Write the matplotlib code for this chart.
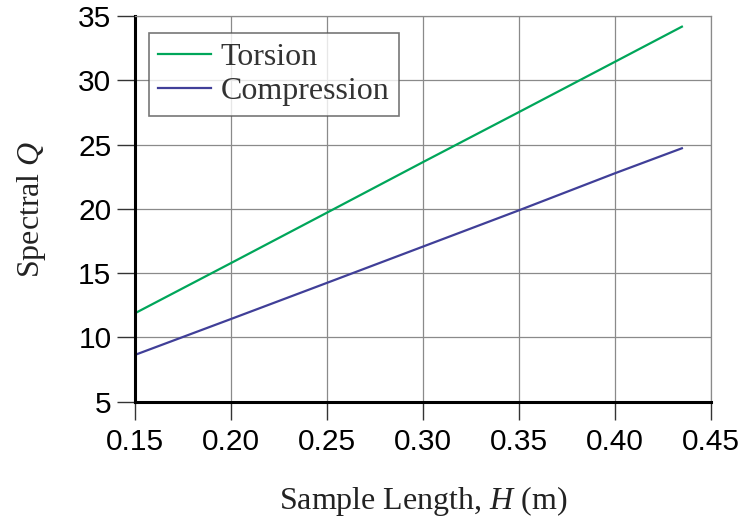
import matplotlib
matplotlib.use("Agg")
import matplotlib.pyplot as plt

# data
length_h = [0.15, 0.20, 0.25, 0.30, 0.35, 0.40, 0.435]
torsion_q = [11.88, 15.78, 19.70, 23.63, 27.52, 31.43, 34.17]
compression_q = [8.64, 11.43, 14.24, 17.06, 19.88, 22.76, 24.71]

x_ticks = [0.15, 0.20, 0.25, 0.30, 0.35, 0.40, 0.45]
y_ticks = [5, 10, 15, 20, 25, 30, 35]

plt.rcParams["mathtext.fontset"] = "custom"
plt.rcParams["mathtext.it"] = "Liberation Serif:italic"
plt.rcParams["mathtext.rm"] = "Liberation Serif"

fig = plt.figure(figsize=(7.44, 5.23), dpi=100)
ax = fig.add_axes([0.1815, 0.232, 0.7737, 0.7374])

ax.plot(length_h, torsion_q, color="#00a65a", lw=1.6, label="Torsion")
ax.plot(length_h, compression_q, color="#403f98", lw=1.6, label="Compression")

ax.set_xlim(0.15, 0.45)
ax.set_ylim(5, 35)
ax.set_xticks(x_ticks)
ax.set_xticklabels([f"{t:.2f}" for t in x_ticks])
ax.set_yticks(y_ticks)

ax.grid(True, color="#8a8a8a", lw=0.9)
ax.set_axisbelow(True)
for side in ["top", "right"]:
    ax.spines[side].set_color("#8a8a8a")
    ax.spines[side].set_linewidth(0.9)
for side in ["left", "bottom"]:
    ax.spines[side].set_color("black")
    ax.spines[side].set_linewidth(2.2)

ax.tick_params(axis="both", direction="out", length=13, width=1.0, color="#333333",
               labelsize=21.5)
ax.tick_params(axis="x", pad=6)
ax.tick_params(axis="y", pad=4)
for lab in ax.get_xticklabels() + ax.get_yticklabels():
    lab.set_fontfamily("Liberation Sans")

serif = {"family": "Liberation Serif", "size": 23, "color": "#222222"}
ax.set_xlabel("Sample Length, $H$ (m)", fontdict=serif, labelpad=20)
ax.set_ylabel("Spectral $Q$", fontdict=serif, labelpad=22)

leg = ax.legend(loc="upper left", bbox_to_anchor=(0.024, 0.955), frameon=True, fancybox=False,
                prop={"family": "Liberation Serif", "size": 23}, handlelength=1.65,
                handletextpad=0.3, borderpad=0.3, labelspacing=0.15, borderaxespad=0)
leg.get_frame().set_edgecolor("#555555")
leg.get_frame().set_linewidth(1.2)
for t in leg.get_texts():
    t.set_color("#333333")

fig.savefig("out.png", dpi=100)
